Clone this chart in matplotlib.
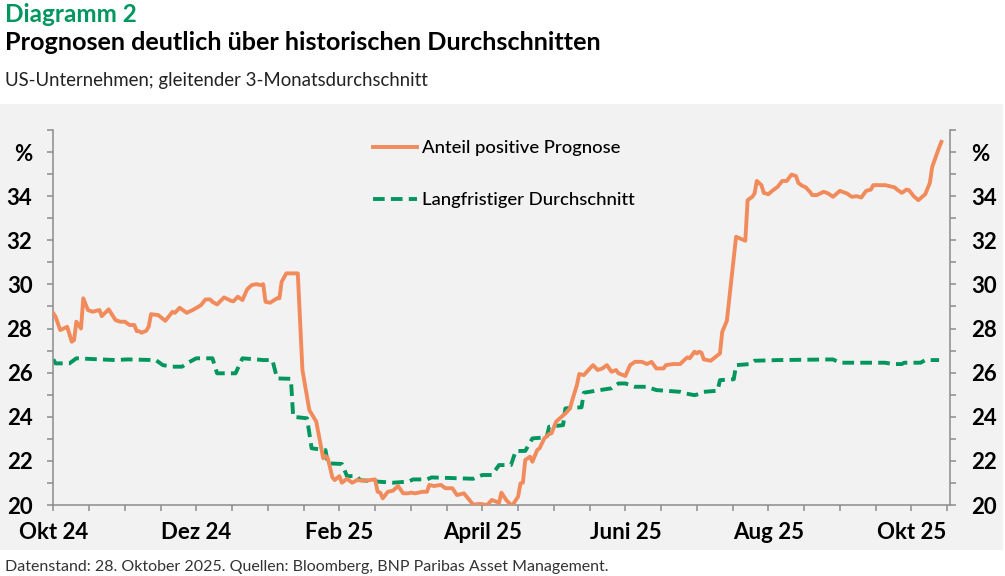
import pandas as pd
import matplotlib
matplotlib.use("Agg")
import matplotlib.pyplot as plt
from matplotlib.patches import Rectangle

plt.rcParams['font.family'] = ['Lato', 'DejaVu Sans']

# Anteil positive Prognose (%)
pos_dates = [
    "2024-10-01", "2024-10-02", "2024-10-04", "2024-10-07", "2024-10-09", "2024-10-10",
    "2024-10-11", "2024-10-13", "2024-10-14", "2024-10-16", "2024-10-18", "2024-10-21",
    "2024-10-22", "2024-10-25", "2024-10-28", "2024-10-30", "2024-11-01", "2024-11-03",
    "2024-11-05", "2024-11-06", "2024-11-07", "2024-11-08", "2024-11-10", "2024-11-11",
    "2024-11-12", "2024-11-15", "2024-11-18", "2024-11-21", "2024-11-22", "2024-11-24",
    "2024-11-27", "2024-11-30", "2024-12-03", "2024-12-05", "2024-12-07", "2024-12-08",
    "2024-12-10", "2024-12-13", "2024-12-16", "2024-12-17", "2024-12-19", "2024-12-21",
    "2024-12-23", "2024-12-25", "2024-12-27", "2024-12-29", "2024-12-30", "2024-12-31",
    "2025-01-02", "2025-01-05", "2025-01-06", "2025-01-07", "2025-01-09", "2025-01-14",
    "2025-01-16", "2025-01-19", "2025-01-22", "2025-01-25", "2025-01-26", "2025-01-27",
    "2025-01-29", "2025-01-30", "2025-02-01", "2025-02-02", "2025-02-04", "2025-02-06",
    "2025-02-08", "2025-02-11", "2025-02-15", "2025-02-16", "2025-02-17", "2025-02-18",
    "2025-02-20", "2025-02-22", "2025-02-24", "2025-02-26", "2025-02-28", "2025-03-01",
    "2025-03-03", "2025-03-06", "2025-03-08", "2025-03-09", "2025-03-11", "2025-03-14",
    "2025-03-16", "2025-03-19", "2025-03-21", "2025-03-24", "2025-03-27", "2025-03-28",
    "2025-03-31", "2025-04-03", "2025-04-05", "2025-04-08", "2025-04-09", "2025-04-11",
    "2025-04-13", "2025-04-14", "2025-04-16", "2025-04-17", "2025-04-18", "2025-04-19",
    "2025-04-21", "2025-04-22", "2025-04-24", "2025-04-25", "2025-04-27", "2025-04-29",
    "2025-04-30", "2025-05-02", "2025-05-04", "2025-05-06", "2025-05-08", "2025-05-09",
    "2025-05-11", "2025-05-12", "2025-05-14", "2025-05-16", "2025-05-18", "2025-05-20",
    "2025-05-22", "2025-05-24", "2025-05-26", "2025-05-28", "2025-05-29", "2025-06-01",
    "2025-06-03", "2025-06-05", "2025-06-08", "2025-06-10", "2025-06-12", "2025-06-14",
    "2025-06-17", "2025-06-18", "2025-06-21", "2025-06-24", "2025-06-26", "2025-06-27",
    "2025-06-28", "2025-06-30", "2025-07-01", "2025-07-02", "2025-07-03", "2025-07-04",
    "2025-07-07", "2025-07-11", "2025-07-12", "2025-07-14", "2025-07-18", "2025-07-22",
    "2025-07-23", "2025-07-25", "2025-07-26", "2025-07-27", "2025-07-29", "2025-07-30",
    "2025-08-01", "2025-08-03", "2025-08-05", "2025-08-07", "2025-08-09", "2025-08-11",
    "2025-08-13", "2025-08-14", "2025-08-16", "2025-08-17", "2025-08-19", "2025-08-20",
    "2025-08-22", "2025-08-25", "2025-08-27", "2025-08-29", "2025-09-01", "2025-09-04",
    "2025-09-06", "2025-09-08", "2025-09-10", "2025-09-12", "2025-09-14", "2025-09-15",
    "2025-09-20", "2025-09-24", "2025-09-25", "2025-09-27", "2025-09-29", "2025-09-30",
    "2025-10-02", "2025-10-04", "2025-10-07", "2025-10-09", "2025-10-10", "2025-10-13",
    "2025-10-14",
]
pos_values = [
    28.69, 28.53, 27.93, 28.08, 27.40, 27.48,
    28.31, 28.00, 29.37, 28.84, 28.76, 28.84,
    28.56, 28.87, 28.38, 28.31, 28.31, 28.16,
    28.16, 27.88, 27.88, 27.81, 27.90, 28.08,
    28.65, 28.61, 28.35, 28.76, 28.71, 28.94,
    28.71, 28.87, 29.06, 29.32, 29.32, 29.21,
    29.09, 29.41, 29.26, 29.23, 29.44, 29.29,
    29.77, 29.97, 30.01, 29.97, 30.01, 29.21,
    29.17, 29.37, 29.37, 30.12, 30.50, 30.50,
    26.12, 24.30, 23.78, 22.12, 22.22, 22.12,
    21.25, 21.13, 21.31, 21.01, 21.19, 21.01,
    21.13, 21.10, 21.16, 20.60, 20.56, 20.30,
    20.60, 20.65, 20.86, 20.53, 20.53, 20.56,
    20.53, 20.60, 20.60, 20.91, 20.86, 20.91,
    20.76, 20.76, 20.45, 20.53, 20.15, 20.02,
    20.05, 20.00, 20.23, 20.10, 20.56, 20.23,
    20.00, 20.05, 20.38, 20.98, 21.01, 22.04,
    22.19, 21.96, 22.49, 22.57, 23.02, 23.22,
    23.25, 23.78, 23.97, 24.15, 24.38, 24.76,
    25.44, 25.94, 25.89, 26.12, 26.34, 26.12,
    26.19, 26.34, 26.04, 26.12, 25.97, 25.85,
    26.34, 26.49, 26.49, 26.39, 26.49, 26.19,
    26.19, 26.34, 26.39, 26.39, 26.60, 26.69,
    26.65, 26.95, 26.87, 26.95, 26.90, 26.60,
    26.54, 26.87, 27.85, 28.35, 32.16, 31.98,
    33.82, 33.97, 34.12, 34.69, 34.50, 34.15,
    34.09, 34.27, 34.42, 34.69, 34.69, 34.98,
    34.91, 34.60, 34.45, 34.42, 34.20, 34.05,
    34.05, 34.20, 34.12, 33.97, 34.24, 34.12,
    33.97, 34.00, 33.94, 34.24, 34.30, 34.50,
    34.50, 34.40, 34.30, 34.15, 34.30, 34.27,
    34.00, 33.82, 34.09, 34.60, 35.32, 36.20,
    36.46,
]

# Langfristiger Durchschnitt (%)
avg_dates = [
    "2024-10-01", "2024-10-02", "2024-10-08", "2024-10-11", "2024-10-28", "2024-11-02",
    "2024-11-14", "2024-11-17", "2024-11-21", "2024-11-25", "2024-11-27", "2024-12-01",
    "2024-12-08", "2024-12-10", "2024-12-18", "2024-12-21", "2024-12-27", "2024-12-30",
    "2025-01-03", "2025-01-05", "2025-01-11", "2025-01-12", "2025-01-18", "2025-01-20",
    "2025-01-26", "2025-01-27", "2025-02-02", "2025-02-04", "2025-02-08", "2025-02-09",
    "2025-02-16", "2025-02-22", "2025-02-28", "2025-03-02", "2025-03-08", "2025-03-10",
    "2025-03-28", "2025-04-01", "2025-04-05", "2025-04-08", "2025-04-13", "2025-04-15",
    "2025-04-19", "2025-04-22", "2025-04-28", "2025-04-29", "2025-05-05", "2025-05-06",
    "2025-05-13", "2025-05-14", "2025-05-21", "2025-05-26", "2025-05-29", "2025-06-01",
    "2025-06-05", "2025-06-10", "2025-06-14", "2025-06-24", "2025-06-26", "2025-06-30",
    "2025-07-02", "2025-07-04", "2025-07-10", "2025-07-11", "2025-07-17", "2025-07-18",
    "2025-07-24", "2025-07-26", "2025-08-05", "2025-08-29", "2025-09-01", "2025-09-20",
    "2025-09-23", "2025-09-27", "2025-09-28", "2025-10-05", "2025-10-07", "2025-10-13",
]
avg_values = [
    26.60, 26.42, 26.42, 26.65, 26.57, 26.60,
    26.57, 26.34, 26.27, 26.27, 26.42, 26.65,
    26.65, 25.97, 25.97, 26.65, 26.60, 26.57,
    26.57, 25.74, 25.72, 24.00, 23.93, 22.57,
    22.49, 21.89, 21.86, 21.31, 21.31, 21.13,
    21.06, 21.01, 21.06, 21.16, 21.16, 21.25,
    21.19, 21.36, 21.36, 21.81, 21.81, 22.45,
    22.45, 23.02, 23.07, 23.55, 23.62, 24.38,
    24.43, 25.09, 25.21, 25.29, 25.51, 25.51,
    25.36, 25.36, 25.21, 25.13, 25.06, 24.98,
    25.03, 25.13, 25.18, 25.66, 25.70, 26.34,
    26.39, 26.54, 26.57, 26.60, 26.45, 26.45,
    26.39, 26.39, 26.45, 26.45, 26.57, 26.57,
]

month_labels = ["Okt 24", "Dez 24", "Feb 25", "April 25", "Juni 25", "Aug 25", "Okt 25"]

ORANGE = "#F28B5C"
GREEN = "#00965E"
PANEL = "#F2F2F2"
SPINE = "#8C8C8C"


def month_pos(dates):
    # the chart spaces every month equally, so use a fractional month index from Oct 2024
    d = pd.to_datetime(pd.Series(dates))
    return ((d.dt.year - 2024) * 12 + d.dt.month - 10
            + (d.dt.day - 1) / d.dt.days_in_month).values


fig = plt.figure(figsize=(10.05, 5.76), dpi=100)
fig.patch.set_facecolor("white")
fig.add_artist(Rectangle((0.0, 26 / 576), 1003 / 1005, 446 / 576,
                         transform=fig.transFigure, facecolor=PANEL,
                         edgecolor="none", zorder=0))

ax = fig.add_axes([53.3 / 1005, 71 / 576, 896.7 / 1005, 375 / 576])
ax.patch.set_visible(False)

ax.plot(month_pos(pos_dates), pos_values, color=ORANGE, lw=2.8,
        solid_joinstyle="round", label="Anteil positive Prognose", zorder=3)
ax.plot(month_pos(avg_dates), avg_values, color=GREEN, lw=2.8,
        dashes=(3.0, 1.6), label="Langfristiger Durchschnitt", zorder=2)

ax.set_xlim(0, 12.54)
ax.set_ylim(20, 37)

ax.spines["top"].set_visible(False)
for side in ["left", "right", "bottom"]:
    ax.spines[side].set_color(SPINE)
    ax.spines[side].set_linewidth(1.1)

xticks = [i * 0.5 for i in range(26)]
ax.set_xticks(xticks)
ax.set_xticklabels([month_labels[int(t) // 2] if t % 2 == 0 else "" for t in xticks])

yticks = list(range(20, 38))
ylabels = []
for v in yticks:
    if v == 36:
        ylabels.append("%")
    elif v % 2 == 0 and v < 36:
        ylabels.append(str(v))
    else:
        ylabels.append("")
ax.set_yticks(yticks)
ax.set_yticklabels(ylabels)

ax.tick_params(axis="both", direction="out", length=4, width=1.1, color=SPINE,
               labelsize=16, labelcolor="black")
ax.tick_params(axis="y", left=True, right=True, labelleft=True, labelright=True)
ax.tick_params(axis="y", which="both", pad=11)
ax.tick_params(axis="x", pad=8)
for t in ax.xaxis.get_major_ticks():
    t.label1.set_fontweight("bold")
for t in ax.yaxis.get_major_ticks():
    t.label1.set_fontweight("bold")
    t.label2.set_fontweight("bold")

leg = ax.legend(loc="upper left", bbox_to_anchor=(373 / 1005, 1 - 140 / 576),
                bbox_transform=fig.transFigure, frameon=False,
                handlelength=2.4, handletextpad=0.25, labelspacing=1.95,
                borderpad=0, borderaxespad=0, prop={"weight": "medium", "size": 13.3})

fig.text(5 / 1005, 1 - 21.5 / 576, "Diagramm 2", color=GREEN, fontsize=17.5,
         fontweight="bold", va="baseline", ha="left")
fig.text(5 / 1005, 1 - 50 / 576, "Prognosen deutlich über historischen Durchschnitten",
         color="black", fontsize=18.2, fontweight="bold", va="baseline", ha="left")
fig.text(5 / 1005, 1 - 86 / 576, "US-Unternehmen; gleitender 3-Monatsdurchschnitt",
         color="#222222", fontsize=13.4, va="baseline", ha="left")
fig.text(5 / 1005, 1 - 571 / 576,
         "Datenstand: 28. Oktober 2025. Quellen: Bloomberg, BNP Paribas Asset Management.",
         color="#333333", fontsize=11.5, va="baseline", ha="left")

fig.savefig("out.png", dpi=100, facecolor=fig.get_facecolor())
